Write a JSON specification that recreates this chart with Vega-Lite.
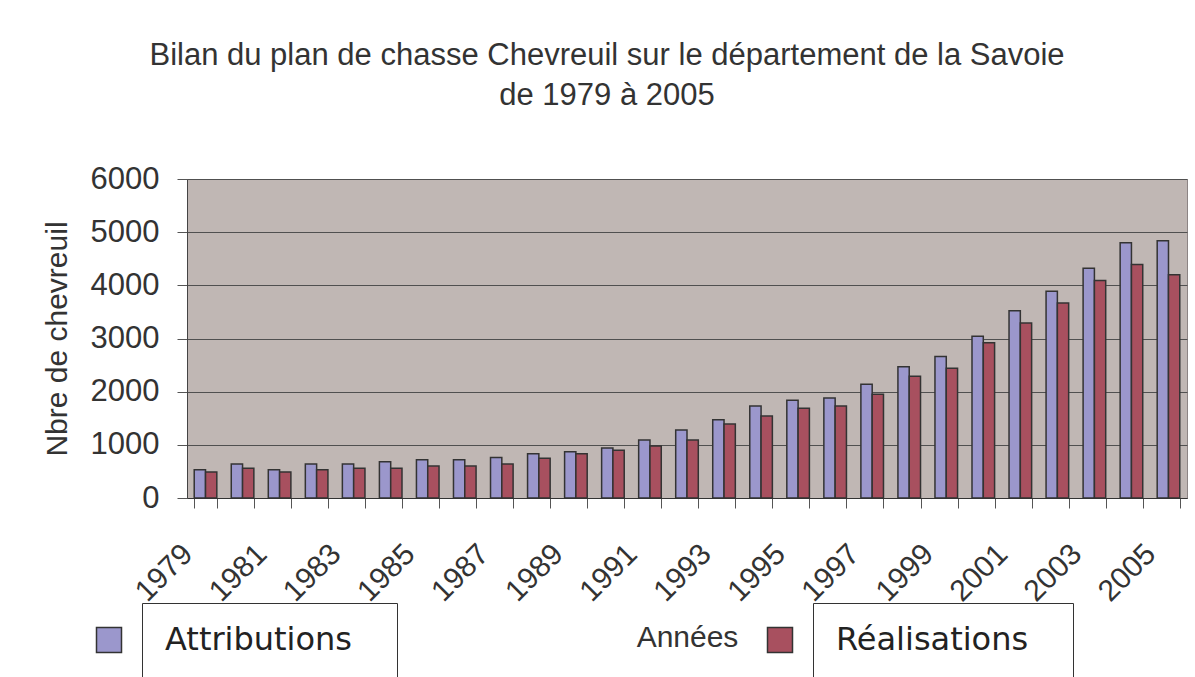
{
  "$schema": "https://vega.github.io/schema/vega-lite/v6.json",
  "width": 1000,
  "height": 319,
  "autosize": {"type": "none"},
  "padding": {"left": 187, "top": 179, "right": 8, "bottom": 179},
  "background": "white",
  "title": {
    "text": ["Bilan du plan de chasse Chevreuil sur le département de la Savoie", "de 1979 à 2005"],
    "font": "Liberation Sans",
    "fontSize": 31,
    "fontWeight": "normal",
    "color": "#333333",
    "anchor": "middle",
    "dx": -80,
    "offset": 51,
    "lineHeight": 40
  },
  "data": {
    "values": [
      {"annee": "1979", "serie": "Attributions", "nombre": 530}, {"annee": "1979", "serie": "Réalisations", "nombre": 490},
      {"annee": "1980", "serie": "Attributions", "nombre": 640}, {"annee": "1980", "serie": "Réalisations", "nombre": 560},
      {"annee": "1981", "serie": "Attributions", "nombre": 530}, {"annee": "1981", "serie": "Réalisations", "nombre": 490},
      {"annee": "1982", "serie": "Attributions", "nombre": 640}, {"annee": "1982", "serie": "Réalisations", "nombre": 530},
      {"annee": "1983", "serie": "Attributions", "nombre": 640}, {"annee": "1983", "serie": "Réalisations", "nombre": 560},
      {"annee": "1984", "serie": "Attributions", "nombre": 680}, {"annee": "1984", "serie": "Réalisations", "nombre": 560},
      {"annee": "1985", "serie": "Attributions", "nombre": 720}, {"annee": "1985", "serie": "Réalisations", "nombre": 600},
      {"annee": "1986", "serie": "Attributions", "nombre": 720}, {"annee": "1986", "serie": "Réalisations", "nombre": 600},
      {"annee": "1987", "serie": "Attributions", "nombre": 760}, {"annee": "1987", "serie": "Réalisations", "nombre": 640},
      {"annee": "1988", "serie": "Attributions", "nombre": 830}, {"annee": "1988", "serie": "Réalisations", "nombre": 750},
      {"annee": "1989", "serie": "Attributions", "nombre": 870}, {"annee": "1989", "serie": "Réalisations", "nombre": 830},
      {"annee": "1990", "serie": "Attributions", "nombre": 940}, {"annee": "1990", "serie": "Réalisations", "nombre": 900},
      {"annee": "1991", "serie": "Attributions", "nombre": 1090}, {"annee": "1991", "serie": "Réalisations", "nombre": 980},
      {"annee": "1992", "serie": "Attributions", "nombre": 1280}, {"annee": "1992", "serie": "Réalisations", "nombre": 1090},
      {"annee": "1993", "serie": "Attributions", "nombre": 1470}, {"annee": "1993", "serie": "Réalisations", "nombre": 1390},
      {"annee": "1994", "serie": "Attributions", "nombre": 1730}, {"annee": "1994", "serie": "Réalisations", "nombre": 1540},
      {"annee": "1995", "serie": "Attributions", "nombre": 1840}, {"annee": "1995", "serie": "Réalisations", "nombre": 1690},
      {"annee": "1996", "serie": "Attributions", "nombre": 1880}, {"annee": "1996", "serie": "Réalisations", "nombre": 1730},
      {"annee": "1997", "serie": "Attributions", "nombre": 2140}, {"annee": "1997", "serie": "Réalisations", "nombre": 1950},
      {"annee": "1998", "serie": "Attributions", "nombre": 2470}, {"annee": "1998", "serie": "Réalisations", "nombre": 2290},
      {"annee": "1999", "serie": "Attributions", "nombre": 2660}, {"annee": "1999", "serie": "Réalisations", "nombre": 2440},
      {"annee": "2000", "serie": "Attributions", "nombre": 3040}, {"annee": "2000", "serie": "Réalisations", "nombre": 2920},
      {"annee": "2001", "serie": "Attributions", "nombre": 3520}, {"annee": "2001", "serie": "Réalisations", "nombre": 3290},
      {"annee": "2002", "serie": "Attributions", "nombre": 3890}, {"annee": "2002", "serie": "Réalisations", "nombre": 3670},
      {"annee": "2003", "serie": "Attributions", "nombre": 4320}, {"annee": "2003", "serie": "Réalisations", "nombre": 4090},
      {"annee": "2004", "serie": "Attributions", "nombre": 4800}, {"annee": "2004", "serie": "Réalisations", "nombre": 4390},
      {"annee": "2005", "serie": "Attributions", "nombre": 4840}, {"annee": "2005", "serie": "Réalisations", "nombre": 4200}
    ]
  },
  "encoding": {
    "x": {
      "field": "annee",
      "type": "nominal",
      "sort": null,
      "scale": {"paddingInner": 0.39, "paddingOuter": 0.195},
      "axis": {
        "title": "Années",
        "titleFont": "Liberation Sans",
        "titleFontSize": 30,
        "titleFontWeight": "normal",
        "titleColor": "#333333",
        "titleY": 139,
        "titleBaseline": "middle",
        "labelFont": "Liberation Sans",
        "labelFontSize": 30,
        "labelColor": "#333333",
        "labelAngle": -45,
        "labelAlign": "right",
        "labelBaseline": "middle",
        "labelPadding": 41,
        "labelOffset": -18,
        "labelExpr": "(toNumber(datum.value) - 1979) % 2 == 0 ? datum.label : ''",
        "tickBand": "extent",
        "tickSize": 10,
        "tickColor": "#555555",
        "domainColor": "#333333",
        "grid": false
      }
    },
    "xOffset": {
      "field": "serie",
      "type": "nominal",
      "scale": {"domain": ["Attributions", "Réalisations"], "paddingInner": 0, "paddingOuter": 0}
    },
    "y": {
      "field": "nombre",
      "type": "quantitative",
      "scale": {"domain": [0, 6000], "nice": false},
      "axis": {
        "title": "Nbre de chevreuil",
        "titleFont": "Liberation Sans",
        "titleFontSize": 30,
        "titleFontWeight": "normal",
        "titleColor": "#333333",
        "titlePadding": 18,
        "values": [0, 1000, 2000, 3000, 4000, 5000, 6000],
        "format": "d",
        "labelFont": "Liberation Sans",
        "labelFontSize": 31,
        "labelColor": "#333333",
        "labelPadding": 18,
        "tickSize": 10,
        "tickColor": "#555555",
        "domainColor": "#444444",
        "grid": true,
        "gridColor": "#505050",
        "gridWidth": 1
      }
    }
  },
  "layer": [
    {
      "transform": [{"filter": "datum.serie == 'Attributions'"}],
      "mark": {"type": "bar", "stroke": "#333333", "strokeWidth": 1.5},
      "encoding": {
        "fill": {
          "field": "serie",
          "type": "nominal",
          "scale": {"domain": ["Attributions"], "range": ["#9b97cc"]},
          "legend": {
            "orient": "none",
            "legendX": -45,
            "legendY": 424,
            "title": null,
            "strokeColor": "#333333",
            "fillColor": "white",
            "padding": 21,
            "symbolType": "square",
            "symbolSize": 625,
            "symbolOffset": -70,
            "symbolStrokeColor": "#333333",
            "symbolStrokeWidth": 1.5,
            "labelOffset": 40,
            "labelFont": "DejaVu Sans",
            "labelFontSize": 32,
            "labelColor": "#222222",
            "labelLimit": 0,
            "labelExpr": "datum.label + '\u2800'"
          }
        }
      }
    },
    {
      "transform": [{"filter": "datum.serie == 'Réalisations'"}],
      "mark": {"type": "bar", "stroke": "#333333", "strokeWidth": 1.5},
      "encoding": {
        "color": {
          "field": "serie",
          "type": "nominal",
          "scale": {"domain": ["Réalisations"], "range": ["#a8505f"]},
          "legend": {
            "orient": "none",
            "legendX": 626,
            "legendY": 424,
            "title": null,
            "strokeColor": "#333333",
            "fillColor": "white",
            "padding": 21,
            "symbolType": "square",
            "symbolSize": 625,
            "symbolOffset": -70,
            "symbolStrokeColor": "#333333",
            "symbolStrokeWidth": 1.5,
            "labelOffset": 40,
            "labelFont": "DejaVu Sans",
            "labelFontSize": 32,
            "labelColor": "#222222",
            "labelLimit": 0,
            "labelExpr": "datum.label + '\u2800'"
          }
        }
      }
    }
  ],
  "config": {
    "view": {"fill": "#c0b7b4", "stroke": "#8c8484", "strokeWidth": 1}
  }
}
